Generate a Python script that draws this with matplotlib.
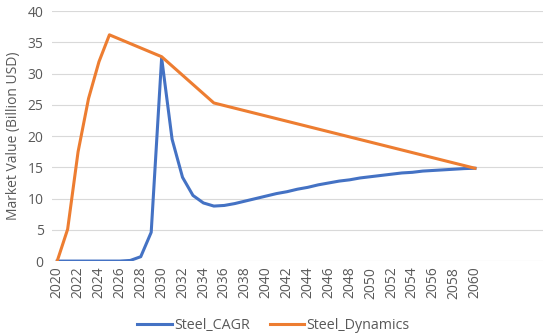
import matplotlib
matplotlib.use("Agg")
import matplotlib.pyplot as plt

years = list(range(2020, 2061))
steel_cagr = [0, 0, 0, 0, 0, 0, 0, 0.1, 0.7, 4.6,
              32.5, 19.5, 13.4, 10.5, 9.3, 8.8, 8.9, 9.2, 9.6, 10.0,
              10.4, 10.8, 11.1, 11.5, 11.8, 12.2, 12.5, 12.8, 13.0, 13.3,
              13.5, 13.7, 13.9, 14.1, 14.2, 14.4, 14.5, 14.6, 14.7, 14.8, 14.85]
dyn_years = [2020, 2021, 2022, 2023, 2024, 2025, 2030, 2035, 2060]
steel_dyn = [0, 5.1, 17.5, 26.0, 31.9, 36.2, 32.7, 25.3, 14.85]
tick_years = list(range(2020, 2061, 2))
yticks = [0, 5, 10, 15, 20, 25, 30, 35, 40]

plt.rcParams['font.family'] = ['Open Sans', 'DejaVu Sans']
fig = plt.figure(figsize=(5.5, 3.36), dpi=100)
ax = fig.add_axes([0.0945, 0.223, 0.8925, 0.744])

ax.plot(years, steel_cagr, color='#4472C4', lw=2.2, label='Steel_CAGR', solid_joinstyle='round')
ax.plot(dyn_years, steel_dyn, color='#ED7D31', lw=2.2, label='Steel_Dynamics', solid_joinstyle='round')

ax.set_xlim(2019.5, 2066.5)
ax.set_ylim(0, 40)
ax.set_yticks(yticks)
ax.set_xticks(tick_years)
ax.set_xticklabels([str(y) for y in tick_years], rotation=90)
ax.tick_params(axis='both', length=0, colors='#595959', labelsize=10)
ax.tick_params(axis='y', pad=6)
ax.tick_params(axis='x', pad=4)
ax.grid(axis='y', color='#D9D9D9', lw=0.8)
ax.set_axisbelow(True)
for s in ax.spines.values():
    s.set_visible(False)
ax.set_ylabel('Market Value (Billion USD)', color='#595959', fontsize=10)
ax.yaxis.set_label_coords(-0.063, 0.5)

fig.legend(loc='lower center', ncol=2, frameon=False, fontsize=10.3,
           bbox_to_anchor=(0.497, -0.03), handlelength=2.4, handletextpad=0.15,
           columnspacing=1.4, labelcolor='#595959')

fig.savefig('out.png', dpi=100)
